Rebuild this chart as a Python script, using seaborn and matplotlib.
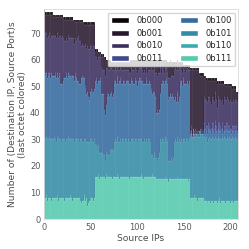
import numpy as np
import pandas as pd
import matplotlib
matplotlib.use("Agg")
import matplotlib.pyplot as plt
import seaborn as sns

levels = ["0b000", "0b001", "0b010", "0b011", "0b100", "0b101", "0b110", "0b111"]

n111 = [8,8,8,7,8,8,8,8,7,8, 8,8,8,8,8,7,8,8,8,8, 8,8,7,8,8,8,8,8,8,8, 7,8,8,8,8,8,8,8,8,7,
        6,7,7,8,7,8,5,6,7,8, 7,8,8,7,8,
        16,16,16,16,15,16,16,16,16,16, 16,15,16,16,16,16,16,16,15,16,
        16,16,16,16,16,16,15,16,16,16, 16,16,16,16,16,16,16,15,16,16, 16,16,16,16,16,16,16,16,16,16,
        16,16,15,16,16,16,16,16,16,16, 16,16,16,16,15,16,
        15,15,15,15,15,15,15,15,15,15, 15,15,15,14,15,15,15,15,15,15, 15,15,15,15,15,15,14,15,15,15,
        15,15,15,15,14,15,
        8,8,8,8,8,8,8,8,7,8, 8,8,8,8,8,
        7,7,6,7,6,7,7,6,7,7, 6,7,7,7,6,7,7,7,6,7, 7,7,7,6,7,7,7,7,6,7, 7,7,6,7,7,7,7]

n110 = [0,0,1,0,0,0,0,1,0,0, 0,0,0,0,1,0,0,0,0,0, 0,1,0,0,0,0,0,0,1,0, 0,0,0,0,0,1,0,0,0,0,
        0,0,0,1,0,0,0,0,0,0, 1,0,0,0,0,
        0,0,0,1,0,0,0,0,0,0, 0,0,1,0,0,0,0,0,0,0,
        0,0,0,0,1,0,0,0,0,0, 0,0,0,0,0,0,1,0,0,0, 0,0,0,0,0,0,0,0,0,1, 0,0,0,0,0,0,0,0,0,0,
        0,1,0,0,0,0,0,0,0,0, 0,0,0,0,0,1,0,0,0,0, 0,0,0,0,0,0,0,0,1,0, 0,0,0,0,0,0,0,0,0,0,
        1,0,
        0,0,0,0,0,1,0,0,0,0, 0,0,0,0,0,
        0,0,0,0,1,0,0,0,0,0, 0,0,0,0,0,0,0,1,0,0, 0,0,0,0,0,0,0,0,0,0, 1,0,0,0,0,0,0]

n101 = [23,22,22,23,22,23,22,21,23,22, 22,23,22,21,22,23,22,22,21,22, 22,22,23,21,22,22,23,22,21,22,
        23,22,21,22,22,21,22,22,21,23, 24,22,22,21,23,21,24,23,22,22, 22,22,21,22,22,
        12,12,11,11,10,9,9,9,8,8, 8,7,8,8,8,8,10,10,11,10,
        13,14,14,13,14,13,14,14,13,14, 14,13,14,14,13,14,14,14,13,14, 14,14,13,14,14,13,14,14,14,13,
        14,13,14,14,13,14,13,14,14,13, 8,7,7,9,8,7,8,7,8,10, 15,14,15,15,14,15,15,14,9,8,
        7,7,8,7,8,14,15,14,15,14, 15,14,15,15,14,15,15,14,15,15, 14,15,
        23,24,23,23,24,22,23,24,24,23, 23,24,23,24,23,
        24,23,24,24,22,23,24,24,23,24, 24,23,24,23,24,24,23,22,24,23, 24,23,24,24,23,24,23,24,24,23,
        22,24,24,23,24,23,23]

n100 = [24,24,24,23,24,24,23,24,24,24, 24,23,24,24,24,23,24,21,22,21, 22,24,23,24,24,23,24,24,24,23,
        24,24,23,24,23,21,22,21,22,21, 23,24,24,23,19,18,19,17,16,17, 18,19,18,19,19,
        24,24,24,24,27,27,22,22,23,23, 17,17,18,22,23,22,21,21,20,21,
        22,22,21,22,22,22,23,22,22,21, 22,22,21,22,23,22,21,22,22,22, 22,21,22,22,22,21,22,23,22,22,
        21,22,22,21,22,22,22,21,22,22, 24,23,25,22,24,23,17,18,17,16, 17,22,21,22,22,21,22,22,24,23,
        24,25,23,24,23,16,16,15,16,15, 16,22,21,22,21,22,21,22,21,22, 21,22,
        1,1,0,1,2,1,1,0,1,1, 2,1,1,0,1,
        3,2,3,2,3,4,2,3,2,3, 3,2,4,3,2,3,2,3,3,2, 3,2,2,3,4,2,3,2,3,2, 3,2,3,2,2,3,2]

n011 = [0,1,0,0,1,0,0,0,1,0, 0,0,1,0,0,0,1,0,0,0, 1,0,0,0,1,0,0,0,0,1, 0,0,0,1,0,0,0,1,0,0,
        0,1,0,0,1,0,0,0,1,0, 0,0,1,0,0,
        0,1,0,0,0,1,0,0,1,0, 0,0,0,1,0,0,0,1,0,0,
        1,0,0,0,1,0,0,1,0,0, 0,1,0,0,0,0,1,0,0,1, 0,0,0,1,0,0,0,0,1,0, 0,1,0,0,0,1,0,0,0,0,
        1,0,0,1,0,0,0,1,0,0, 0,0,1,0,0,0,1,0,0,1, 0,0,0,1,0,0,0,0,1,0, 0,1,0,0,0,1,0,0,0,0,
        1,0,
        0,0,0,0,0,0,0,0,0,0, 0,0,0,0,0,
        2,2,1,2,3,2,2,1,2,2, 3,2,2,2,1,2,2,3,2,2, 2,1,2,2,2,3,2,2,1,2, 2,2,2,3,2,2,1]

n010 = [15,15,15,15,14,15,15,15,14,15, 15,15,14,15,15,15,14,18,17,18, 15,14,14,14,13,14,14,14,14,14,
        14,14,14,13,14,16,16,17,16,16, 12,12,12,12,16,17,17,18,18,17, 17,16,16,17,16,
        9,8,9,9,9,9,10,9,9,9, 15,15,14,10,9,10,10,9,10,9,
        4,5,4,5,4,5,4,4,5,5, 4,4,5,4,4,4,5,4,4,4, 4,5,5,4,4,5,4,4,4,5,
        5,4,4,5,4,4,4,5,4,5, 8,9,8,9,8,9,15,13,15,14, 13,4,5,4,4,5,4,4,6,7,
        7,6,8,7,8,11,11,12,11,12, 11,5,5,4,5,4,5,4,5,4, 5,4,
        1,2,1,1,0,1,2,1,1,1, 0,1,2,1,1,
        10,11,9,10,9,10,11,10,9,10, 9,10,11,10,9,10,11,9,10,10, 9,10,11,10,9,10,10,9,11,10,
        10,9,10,9,10,10,11]

n000 = [1,1,0,1,1,0,1,1,1,0, 1,1,0,1,1,1,0,1,1,1, 0,1,1,0,1,1,1,0,1,1, 1,0,1,1,1,0,1,1,0,1,
        1,1,0,1,1,1,0,1,1,1, 0,1,1,1,0,
        1,0,1,1,0,1,1,0,1,1, 0,1,1,0,1,1,0,1,1,1,
        1,1,0,1,1,1,0,1,1,0, 1,1,1,0,1,1,0,1,1,1, 0,1,1,0,1,1,1,0,1,1, 1,0,1,1,0,1,1,1,0,1,
        1,0,1,1,1,0,1,1,0,1, 1,1,0,1,1,0,1,1,1,0, 1,1,0,1,1,1,0,1,1,0, 1,1,1,0,1,1,0,1,1,1,
        0,1,
        1,1,0,1,1,1,0,1,1,1, 0,1,1,1,0,
        1,0,1,1,0,1,1,1,0,1, 1,0,1,1,1,0,1,1,0,1, 1,1,0,1,1,0,1,1,1,0, 1,1,0,1,1,0,1]

# total height of each bar (read from the top edge); 0b001 fills the rest
totals = [79,78,78,78,78,78,78,78,78,78, 77,77,77,77,77,77,77,77,77,77, 76,76,76,76,76,76,76,76,76,76,
          76,75,75,75,75,75,75,75,75,75, 75,75,74,74,74,74,74,74,74,74, 74,74,74,74,74,
          64,64,64,63,63,63,62,62,62,62, 61,61,60,60,60,60,60,60,60,60,
          60,60,60,60,60,60,60,60,60,60, 60,60,60,60,60,60,60,60,60,60, 60,60,60,60,60,60,60,60,60,60,
          60,60,60,60,60,60,60,60,60,60, 60,60,60,60,60,60,60,60,60,60, 60,60,60,60,60,60,
          60,59,60,59,59,60,59,59,59,59, 59,59,59,59,59,59,59,59,59,
          58,58,58,58,58,58,58,
          57,57,57,57,57,57,57,57,57,57, 55,55,55,55,55,
          54,54,54, 53,53,53,53,53,53,53,53,53, 53,53,52,52,52,52,52,52,52,
          52,51,51,51,51,51,51,51,51, 50,50,50,50,50, 48,48]

known = {"0b000": n000, "0b010": n010, "0b011": n011, "0b100": n100,
         "0b101": n101, "0b110": n110, "0b111": n111}
n_src = len(totals)
others = np.sum([np.asarray(v) for v in known.values()], axis=0)
n001 = np.clip(np.asarray(totals) - others, 0, None)
counts = dict(known)
counts["0b001"] = list(n001)

rows = []
for lvl in levels:
    for i, c in enumerate(counts[lvl]):
        rows.append((i, lvl, c))
df = pd.DataFrame(rows, columns=["src", "octet", "count"])

sns.set_style("whitegrid", {"axes.grid": False, "axes.edgecolor": ".85"})
palette = [matplotlib.colormaps["mako"](v) for v in np.linspace(0.0, 0.78, 8)]

fig, ax = plt.subplots(figsize=(2.49, 2.49), dpi=100)
fig.subplots_adjust(left=0.177, right=0.956, bottom=0.12, top=0.963)

sns.histplot(data=df, x="src", weights="count", hue="octet", hue_order=levels,
             multiple="stack", discrete=True, palette=palette, alpha=1, ax=ax)

ax.margins(x=0, y=0)
ax.set_xlim(-0.5, n_src - 0.5)
ax.set_xticks([0, 50, 100, 150, 200])
ax.set_yticks(range(0, 80, 10))
ax.tick_params(axis="both", labelsize=6, pad=2.5, colors=".35", length=0)
ax.set_xlabel("Source IPs", fontsize=6.6, color=".3", labelpad=2)
ax.set_ylabel("Number of (Destination IP, Source Port)s\n(last octet colored)",
              fontsize=6.6, color=".3", labelpad=2)
for s in ax.spines.values():
    s.set_linewidth(0.6)

sns.move_legend(ax, "upper right", ncol=2, title=None, fontsize=6, frameon=True,
                borderaxespad=0.4, labelspacing=0.45, handlelength=2.2,
                columnspacing=2.1)

fig.savefig("out.png", dpi=100)
